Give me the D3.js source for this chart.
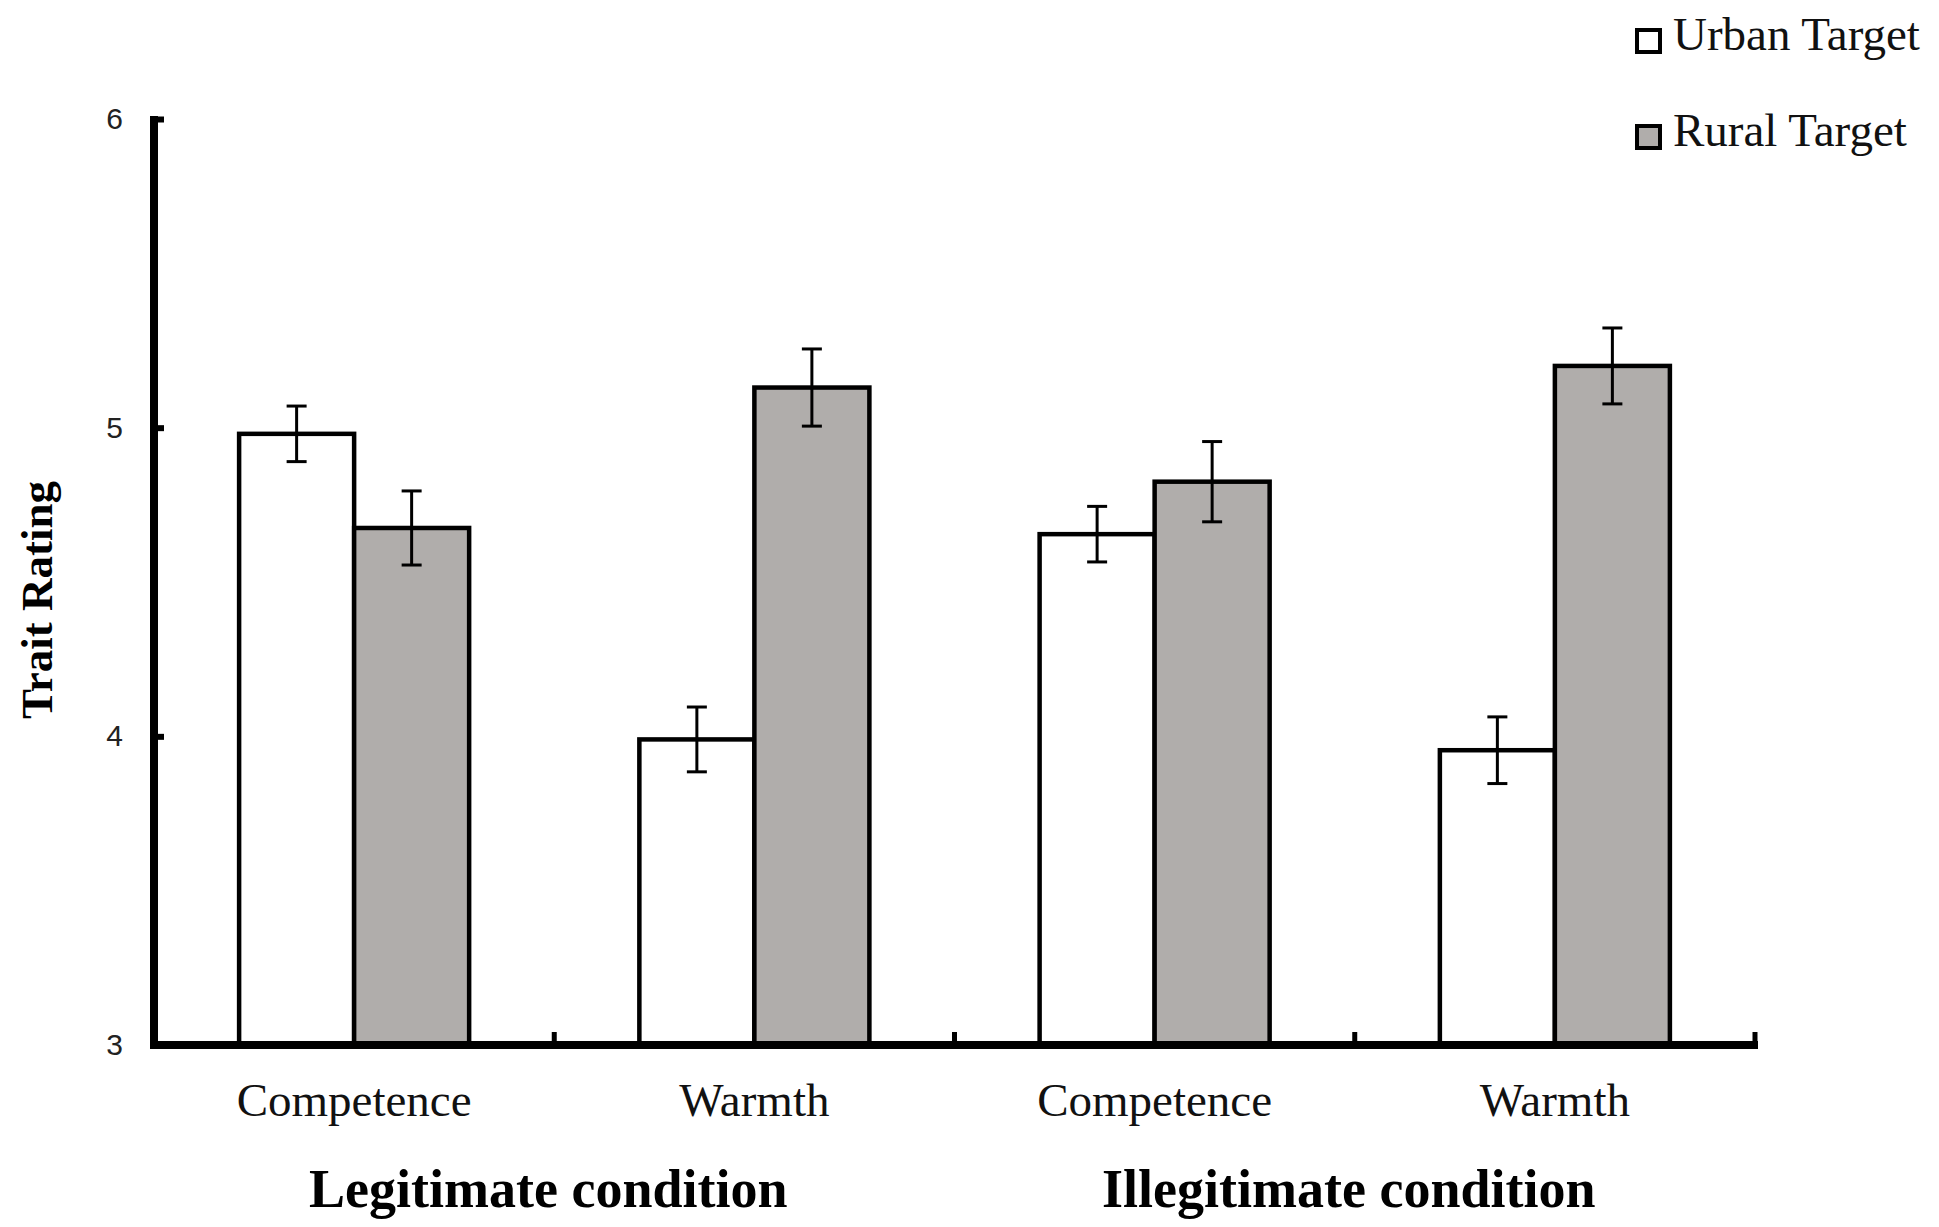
<!DOCTYPE html>
<html>
<head>
<meta charset="utf-8">
<script src="https://cdn.jsdelivr.net/npm/d3@7"></script>
<style>
  html, body { margin: 0; padding: 0; background: #fff; }
  svg { display: block; }
</style>
</head>
<body>
<div id="chart"></div>
<script>
// Trait ratings by target and condition

var categories = ["Competence", "Warmth", "Competence", "Warmth"];
var conditions = ["Legitimate condition", "Illegitimate condition"];
var series = ["Urban Target", "Rural Target"];
var urbanMeans = [4.98, 3.99, 4.655, 3.955];
var ruralMeans = [4.675, 5.13, 4.825, 5.20];
var urbanErr = [0.09, 0.105, 0.09, 0.108];
var ruralErr = [0.12, 0.125, 0.13, 0.123];
var yTicks = [3, 4, 5, 6];

var width = 1939, height = 1227;
// note: "top" is reserved on window, so use plot* names
var plotLeft = 154, plotRight = 1755, plotTop = 119, plotBottom = 1045;
var colors = { "Urban Target": "#ffffff", "Rural Target": "#b0adab" };

var svg = d3.select("#chart").append("svg")
    .attr("width", width)
    .attr("height", height);

var x0 = d3.scaleBand()
    .domain(d3.range(categories.length))
    .range([plotLeft, plotRight]);

var x1 = d3.scaleBand()
    .domain(series)
    .range([0, x0.bandwidth()])
    .paddingOuter(0.74);

var y = d3.scaleLinear()
    .domain([3, 6])
    .range([plotBottom, plotTop]);

// build rows for bars
var rows = [];
categories.forEach(function(c, i) {
    rows.push({ cat: i, s: series[0], v: urbanMeans[i], e: urbanErr[i] });
    rows.push({ cat: i, s: series[1], v: ruralMeans[i], e: ruralErr[i] });
});

// bars
svg.append("g").selectAll("rect")
    .data(rows)
    .enter().append("rect")
    .attr("x", function(d) { return x0(d.cat) + x1(d.s); })
    .attr("y", function(d) { return y(d.v); })
    .attr("width", x1.bandwidth())
    .attr("height", function(d) { return y(3) - y(d.v); })
    .attr("fill", function(d) { return colors[d.s]; })
    .attr("stroke", "#000")
    .attr("stroke-width", 4.5);

// error bars
var err = svg.append("g").attr("stroke", "#000").attr("stroke-width", 3);
rows.forEach(function(d) {
    var cx = x0(d.cat) + x1(d.s) + x1.bandwidth() / 2;
    err.append("line")
        .attr("x1", cx).attr("x2", cx)
        .attr("y1", y(d.v + d.e)).attr("y2", y(d.v - d.e));
    [d.v + d.e, d.v - d.e].forEach(function(v) {
        err.append("line")
            .attr("x1", cx - 10).attr("x2", cx + 10)
            .attr("y1", y(v)).attr("y2", y(v));
    });
});

// y axis
var yAxis = svg.append("g")
    .attr("transform", "translate(" + plotLeft + ",0)")
    .call(d3.axisLeft(y).tickValues(yTicks).tickFormat(d3.format("d"))
        .tickSize(-10).tickSizeOuter(0).tickPadding(31));
yAxis.select(".domain").attr("stroke", "#000").attr("stroke-width", 8)
    .attr("d", "M0," + (plotTop - 3) + "V" + (plotBottom + 4));
yAxis.selectAll(".tick line").attr("stroke", "#000").attr("stroke-width", 6);
yAxis.selectAll(".tick text")
    .attr("font-family", "Liberation Sans, Arial, sans-serif")
    .attr("font-size", 30)
    .attr("fill", "#222");

// x axis
var xAxis = svg.append("g");
xAxis.append("line")
    .attr("x1", plotLeft - 4).attr("x2", plotRight + 3)
    .attr("y1", y(3)).attr("y2", y(3))
    .attr("stroke", "#000").attr("stroke-width", 8);
xAxis.selectAll(".xt")
    .data(d3.range(categories.length))
    .enter().append("line")
    .attr("x1", function(i) { return x0(i) + x0.bandwidth(); })
    .attr("x2", function(i) { return x0(i) + x0.bandwidth(); })
    .attr("y1", y(3))
    .attr("y2", y(3) - 13)
    .attr("stroke", "#000")
    .attr("stroke-width", 5);

// category labels
svg.append("g").selectAll("text")
    .data(categories)
    .enter().append("text")
    .attr("x", function(d, i) { return x0(i) + x0.bandwidth() / 2; })
    .attr("y", 1116)
    .attr("text-anchor", "middle")
    .attr("font-family", "Liberation Serif, Times New Roman, serif")
    .attr("font-size", 47)
    .attr("fill", "#111")
    .text(function(d) { return d; });

// condition labels
svg.append("g").selectAll("text")
    .data(conditions)
    .enter().append("text")
    .attr("x", function(d, i) { return x0(i * 2) + x0.bandwidth() - 6; })
    .attr("y", 1207)
    .attr("text-anchor", "middle")
    .attr("font-family", "Liberation Serif, Times New Roman, serif")
    .attr("font-weight", "bold")
    .attr("font-size", 54)
    .attr("fill", "#000")
    .text(function(d) { return d; });

// y title
svg.append("text")
    .attr("transform", "translate(52,600) rotate(-90)")
    .attr("text-anchor", "middle")
    .attr("font-family", "Liberation Serif, Times New Roman, serif")
    .attr("font-weight", "bold")
    .attr("font-size", 45)
    .attr("fill", "#000")
    .text("Trait Rating");

// legend
var legend = svg.append("g").attr("transform", "translate(1635,28)");
series.forEach(function(s, i) {
    var g = legend.append("g").attr("transform", "translate(0," + i * 96 + ")");
    g.append("rect")
        .attr("x", 2).attr("y", 2)
        .attr("width", 23).attr("height", 22)
        .attr("fill", colors[s])
        .attr("stroke", "#000")
        .attr("stroke-width", 4);
    g.append("text")
        .attr("x", 38)
        .attr("y", 22)
        .attr("font-family", "Liberation Serif, Times New Roman, serif")
        .attr("font-size", 47)
        .attr("fill", "#111")
        .text(s);
});
</script>
</body>
</html>
